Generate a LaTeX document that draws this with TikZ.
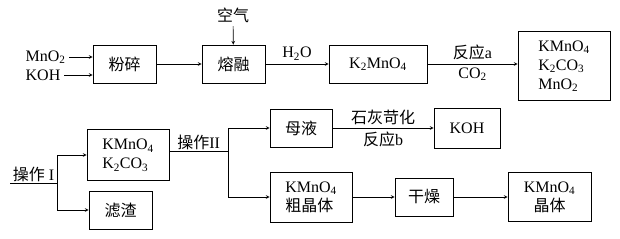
\documentclass[tikz,border=0pt]{standalone}
\usepackage{fontspec}
\setmainfont{Liberation Serif}
\newfontfamily\cjk{Noto Sans CJK SC}
\newcommand{\zh}[1]{{\cjk #1}}
\newcommand{\dn}[1]{\textsubscript{#1}}
\begin{document}
\begin{tikzpicture}[>=stealth, x = 1pt, y = -1pt, line width = .7pt,
	every node/.style = {font = \fontsize{16}{19}\selectfont},
	khung/.style = {draw, minimum width = #1, minimum height = 38pt}]
	\useasboundingbox (0,0) rectangle (620,238);
	% Hàng trên
	\node[khung = 63pt] (fs) at (124.5,64) {\zh{粉碎}};
	\node[khung = 63pt] (rr) at (233.5,64) {\zh{熔融}};
	\node[khung = 98pt] (kmn) at (378,64) {K\dn{2}MnO\dn{4}};
	\node[khung = 92pt, minimum height = 69pt, align = left] (hh) at (564,66) {KMnO\dn{4}\\K\dn{2}CO\dn{3}\\MnO\dn{2}};
	\node[anchor = west] (mno) at (22,57) {MnO\dn{2}};
	\node[anchor = west] (koh0) at (22,75) {KOH};
	\node (kk) at (233,15) {\zh{空气}};
	\draw[->] (mno.east) -- (fs.west |- mno);
	\draw[->] (koh0.east) -- (fs.west |- koh0);
	\draw[->] (kk) -- (rr);
	\draw[->] (fs) -- (rr);
	\draw[->] (rr) -- node[above]{H\dn{2}O} (kmn);
	\draw[->] (kmn.east) -- node[above]{\zh{反应}a} node[below]{CO\dn{2}} (kmn.east -| hh.west);
	% Hàng dưới
	\node[khung = 82pt, minimum height = 51pt, align = left] (ab) at (128,155) {KMnO\dn{4}\\K\dn{2}CO\dn{3}};
	\node[khung = 63pt] (lz) at (120.5,210) {\zh{滤渣}};
	\node[khung = 62pt] (my) at (301,128) {\zh{母液}};
	\node[khung = 66pt, minimum height = 40pt] (koh) at (467,128) {KOH};
	\node[khung = 82pt, minimum height = 50pt, align = left] (cj) at (311,197) {KMnO\dn{4}\\\zh{粗晶体}};
	\node[khung = 58pt] (gz) at (424,197) {\zh{干燥}};
	\node[khung = 83pt, minimum height = 49pt, align = center] (jt) at (549.5,197) {KMnO\dn{4}\\\zh{晶体}};
	\coordinate (st) at (10,183);
	\coordinate (j1) at (57,183);
	\coordinate (j2) at (228,151);
	\draw (st) -- node[above, inner sep = 1pt]{\zh{操作} I} (j1);
	\draw[->] (j1) |- (ab);
	\draw[->] (j1) |- (lz);
	\draw (ab.east |- j2) -- node[above, inner sep = 1pt]{\zh{操作}II} (j2);
	\draw[->] (j2) |- (my);
	\draw[->] (j2) |- (cj);
	\draw[->] (my) -- node[above]{\zh{石灰苛化}} node[below]{\zh{反应}b} (koh);
	\foreach \a/\b in {cj/gz, gz/jt}{\draw[->] (\a) -- (\b);}
\end{tikzpicture}
\end{document}
